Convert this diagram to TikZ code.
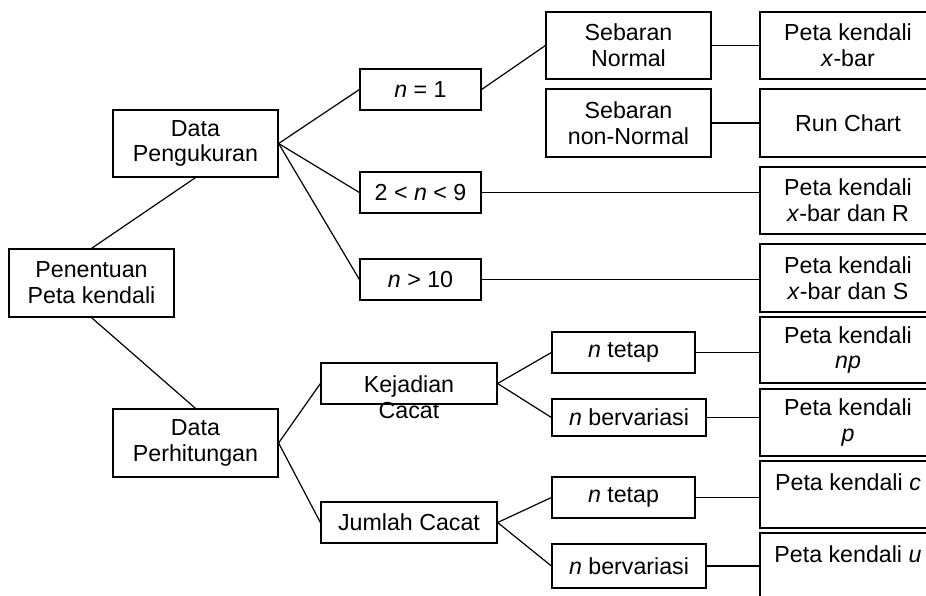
\documentclass[tikz,border=0pt]{standalone}
\usepackage{fontspec}
\setmainfont{Liberation Sans}

\begin{document}
\begin{tikzpicture}[x=0.5pt, y=-0.5pt,
    txt/.style={font=\fontsize{11.6}{12.9}\selectfont, align=center, inner sep=0pt},
    box/.style={txt, draw, line width=0.6pt},
    sz/.style 2 args={minimum width=#1*0.5pt, minimum height=#2*0.5pt},
    link/.style={line width=0.6pt}]
    \useasboundingbox (0,0) rectangle (926,595);
    \clip (0,0) rectangle (926,595);
    % left part
    \node[box, sz={165}{68}] (root) at (91.5,283) {Penentuan\\Peta kendali};
    \node[box, sz={165}{67}] (ukur) at (195.5,143.5) {Data\\Pengukuran};
    \node[box, sz={165}{68}] (hitung) at (195.5,443) {Data\\Perhitungan};
    % data pengukuran
    \node[box, sz={121}{41}] (n1) at (420.5,89.5) {\textit{n} = 1};
    \node[box, sz={121}{41}] (n9) at (420.5,192.5) {2 < \textit{n} < 9};
    \node[box, sz={121}{41}] (n10) at (420.5,279.5) {\textit{n} > 10};
    \node[box, sz={165}{67}] (normal) at (628.5,45.5) {Sebaran\\Normal};
    \node[box, sz={165}{68}] (nonnormal) at (628.5,123) {Sebaran\\non-Normal};
    % data perhitungan
    \node[box, sz={176}{41}] (cacat) at (409,383.5) {};
    \node[txt] at (409,397) {Kejadian\\Cacat};
    \node[box, sz={176}{41}] (jumlah) at (409,522.5) {Jumlah Cacat};
    \node[box, sz={143}{41}] (tetap1) at (623.5,352.5) {\textit{n} tetap};
    \node[box, sz={154}{37}] (var1) at (629,417.5) {\textit{n} bervariasi};
    \node[box, sz={143}{41}] (tetap2) at (623.5,497.5) {\textit{n} tetap};
    \node[box, sz={154}{44}] (var2) at (629,566) {\textit{n} bervariasi};
    % peta kendali
    \node[box, sz={176}{67}] (xbar) at (848,45.5) {Peta kendali\\\textit{x}-bar};
    \node[box, sz={176}{68}] (run) at (848,123) {Run Chart};
    \node[box, sz={176}{67}] (xbarR) at (848,200.5) {Peta kendali\\\textit{x}-bar dan R};
    \node[box, sz={176}{68}] (xbarS) at (848,278) {Peta kendali\\\textit{x}-bar dan S};
    \node[box, sz={176}{66}] (np) at (848,350) {Peta kendali\\\textit{np}};
    \node[box, sz={176}{67}] (p) at (848,422.5) {Peta kendali\\\textit{p}};
    \node[box, sz={176}{67}] (c) at (848,494.5) {};
    \node[txt, anchor=base] at (848,490) {Peta kendali \textit{c}};
    \node[box, sz={176}{67}] (u) at (848,566.5) {};
    \node[txt, anchor=base] at (848,562) {Peta kendali \textit{u}};

    \draw[link] (root.north) -- (ukur.south);
    \draw[link] (root.south) -- (hitung.north);
    \draw[link] (ukur.east) -- (n1.west);
    \draw[link] (ukur.east) -- (n9.west);
    \draw[link] (ukur.east) -- (n10.west);
    \draw[link] (n1.east) -- (normal.west);
    \draw[link] (normal.east) -- (xbar.west);
    \draw[link] (nonnormal.east) -- (run.west);
    \draw[link] (n9.east) -- (n9.east -| xbarR.west);
    \draw[link] (n10.east) -- (n10.east -| xbarS.west);
    \draw[link] (hitung.east) -- (cacat.west);
    \draw[link] (hitung.east) -- (jumlah.west);
    \draw[link] (cacat.east) -- (tetap1.west);
    \draw[link] (cacat.east) -- (var1.west);
    \draw[link] (jumlah.east) -- (tetap2.west);
    \draw[link] (jumlah.east) -- (var2.west);
    \draw[link] (tetap1.east) -- (tetap1.east -| np.west);
    \draw[link] (var1.east) -- (var1.east -| p.west);
    \draw[link] (tetap2.east) -- (tetap2.east -| c.west);
    \draw[link] (var2.east) -- (var2.east -| u.west);
\end{tikzpicture}
\end{document}
